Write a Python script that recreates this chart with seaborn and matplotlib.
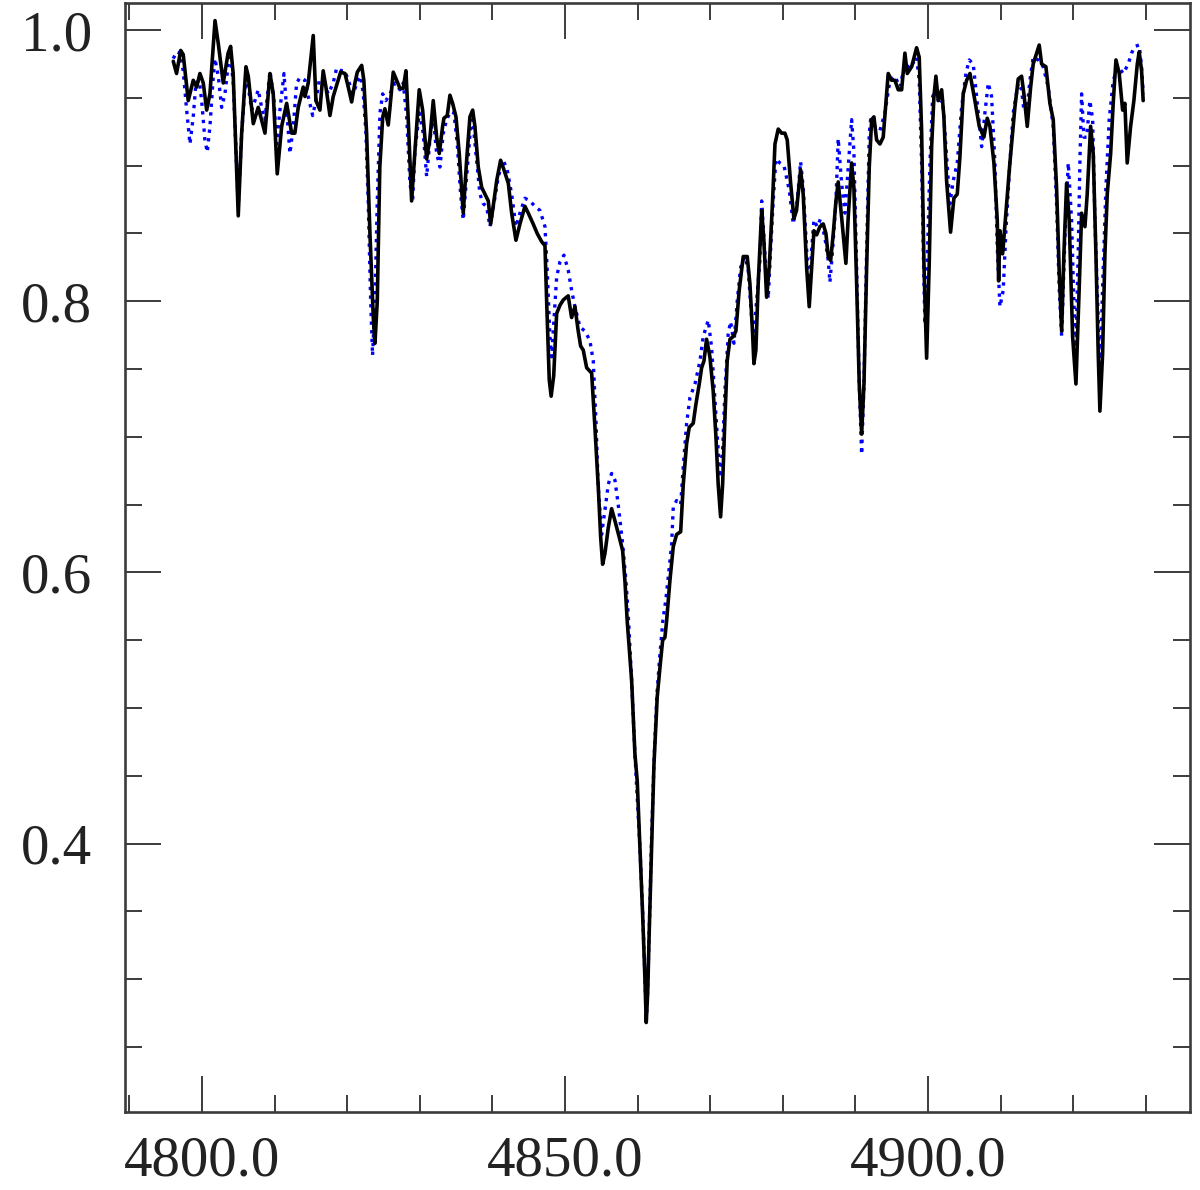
import numpy as np
import pandas as pd
import matplotlib
matplotlib.use("Agg")
import matplotlib.pyplot as plt
from matplotlib.ticker import MultipleLocator, FormatStrFormatter
import seaborn as sns

# ---- data: black solid spectrum ----
wl_black = [
 4796.05,4796.5,4797.07,4797.42,4798.11,4798.8,4799.27,4799.72,4800.18,4800.65,
 4801.1,4801.8,4802.25,4802.93,4803.6,4803.95,4804.3,4805.0,4805.47,4806.06,
 4806.38,4807.07,4807.75,4808.2,4808.68,4809.37,4809.82,4810.37,4810.98,4811.67,
 4812.35,4812.8,4813.26,4813.95,4814.19,4814.64,4815.33,4815.7,4816.25,4816.7,
 4817.08,4817.63,4818.08,4818.64,4819.1,4819.7,4820.15,4820.62,4821.07,4821.4,
 4822.0,4822.3,4822.68,4823.14,4823.6,4823.83,4824.15,4824.5,4824.9,4825.2,
 4825.66,4825.9,4826.35,4826.82,4827.27,4827.73,4828.1,4828.4,4828.88,4829.34,
 4829.93,4830.4,4830.95,4831.4,4831.86,4832.33,4832.69,4833.15,4833.33,4833.79,
 4834.16,4834.53,4834.99,4835.44,4835.99,4836.46,4836.91,4837.29,4837.6,4838.06,
 4838.53,4838.98,4839.44,4839.77,4840.22,4840.6,4841.14,4841.6,4842.2,4842.66,
 4843.25,4843.8,4844.49,4844.95,4845.63,4846.18,4846.79,4847.25,4847.48,4847.84,
 4848.1,4848.45,4848.86,4849.31,4849.77,4850.45,4850.92,4851.38,4851.83,4852.16,
 4852.52,4852.99,4853.68,4854.13,4854.59,4854.92,4855.19,4855.51,4855.97,4856.43,
 4856.89,4857.48,4857.95,4858.26,4858.58,4859.19,4859.64,4859.96,4860.33,4860.7,
 4861.02,4861.2,4861.4,4861.61,4861.94,4862.26,4862.71,4863.09,4863.46,4863.77,
 4864.0,4864.46,4864.92,4865.38,4865.94,4866.3,4866.76,4867.12,4867.67,4868.04,
 4868.5,4868.83,4869.15,4869.51,4869.97,4870.42,4870.8,4871.11,4871.44,4871.72,
 4872.04,4872.35,4872.73,4873.18,4873.55,4874.0,4874.56,4875.11,4875.48,4875.85,
 4876.03,4876.3,4876.62,4877.1,4877.4,4877.78,4878.14,4878.6,4878.93,4879.38,
 4879.85,4880.3,4880.62,4881.09,4881.54,4881.9,4882.46,4882.82,4883.29,4883.65,
 4883.98,4884.3,4884.67,4885.12,4885.58,4885.95,4886.27,4886.6,4886.96,4887.33,
 4887.64,4888.11,4888.7,4889.02,4889.49,4889.8,4890.18,4890.54,4890.87,4891.19,
 4891.56,4891.92,4892.25,4892.56,4892.93,4893.39,4893.84,4894.53,4895.0,4895.45,
 4895.91,4896.38,4896.83,4897.15,4897.76,4898.44,4898.8,4899.13,4899.45,4899.82,
 4900.18,4900.51,4900.83,4901.1,4901.42,4901.89,4902.2,4902.57,4903.12,4903.58,
 4904.04,4904.4,4904.86,4905.33,4905.79,4906.47,4907.07,4907.71,4908.17,4908.54,
 4909.09,4909.55,4909.74,4909.92,4910.29,4910.74,4911.29,4911.98,4912.44,4912.9,
 4913.22,4913.68,4914.15,4914.5,4914.97,4915.33,4915.66,4916.25,4916.8,4917.26,
 4917.72,4918.08,4918.42,4918.73,4919.1,4919.46,4919.93,4920.39,4920.84,4921.17,
 4921.63,4921.94,4922.41,4922.77,4923.14,4923.46,4923.69,4924.06,4924.38,4924.7,
 4925.17,4925.52,4925.9,4926.35,4926.82,4927.13,4927.45,4927.92,4928.37,4928.84,
 4929.1,4929.43,4929.65]
flux_black = [
 0.977,0.968,0.985,0.982,0.948,0.963,0.958,0.968,0.961,0.941,
 0.953,1.007,0.990,0.961,0.983,0.988,0.968,0.863,0.924,0.973,
 0.966,0.931,0.943,0.934,0.924,0.968,0.953,0.894,0.929,0.946,
 0.924,0.924,0.943,0.958,0.951,0.961,0.996,0.948,0.941,0.970,
 0.958,0.937,0.951,0.961,0.969,0.968,0.958,0.947,0.961,0.969,
 0.974,0.963,0.924,0.850,0.788,0.769,0.800,0.899,0.936,0.942,
 0.930,0.943,0.969,0.963,0.957,0.957,0.970,0.936,0.874,0.911,
 0.956,0.941,0.905,0.920,0.948,0.921,0.909,0.929,0.935,0.937,
 0.952,0.946,0.936,0.909,0.865,0.904,0.936,0.941,0.929,0.899,
 0.884,0.879,0.874,0.857,0.874,0.889,0.904,0.897,0.887,0.865,
 0.845,0.857,0.870,0.865,0.857,0.850,0.844,0.841,0.800,0.742,
 0.730,0.745,0.791,0.797,0.801,0.804,0.788,0.796,0.778,0.767,
 0.764,0.751,0.747,0.707,0.663,0.626,0.606,0.614,0.633,0.647,
 0.638,0.626,0.616,0.594,0.564,0.520,0.466,0.446,0.397,0.348,
 0.300,0.268,0.290,0.335,0.397,0.458,0.508,0.530,0.550,0.552,
 0.564,0.594,0.619,0.628,0.630,0.665,0.695,0.707,0.710,0.724,
 0.739,0.751,0.756,0.772,0.759,0.734,0.700,0.665,0.641,0.665,
 0.714,0.756,0.772,0.774,0.778,0.808,0.833,0.833,0.813,0.776,
 0.754,0.764,0.813,0.867,0.845,0.803,0.825,0.874,0.916,0.927,
 0.924,0.924,0.919,0.887,0.861,0.867,0.897,0.879,0.825,0.796,
 0.825,0.852,0.849,0.855,0.857,0.850,0.833,0.830,0.850,0.874,
 0.888,0.862,0.828,0.862,0.902,0.884,0.813,0.739,0.702,0.739,
 0.825,0.899,0.934,0.936,0.919,0.916,0.921,0.968,0.963,0.963,
 0.956,0.956,0.983,0.968,0.973,0.987,0.980,0.926,0.828,0.758,
 0.828,0.914,0.951,0.966,0.948,0.956,0.936,0.889,0.851,0.876,
 0.879,0.906,0.953,0.963,0.968,0.948,0.929,0.921,0.935,0.929,
 0.902,0.860,0.815,0.852,0.835,0.865,0.902,0.943,0.964,0.966,
 0.953,0.929,0.958,0.975,0.983,0.989,0.975,0.973,0.946,0.934,
 0.884,0.823,0.778,0.835,0.887,0.860,0.774,0.739,0.810,0.865,
 0.855,0.879,0.929,0.909,0.835,0.761,0.719,0.761,0.835,0.879,
 0.909,0.946,0.978,0.968,0.941,0.946,0.902,0.929,0.948,0.975,
 0.984,0.970,0.948]

# ---- data: blue dotted spectrum ----
wl_blue = [
 4796.05,4796.5,4796.97,4797.42,4797.89,4798.35,4798.8,4799.17,4799.63,4799.96,
 4800.41,4800.73,4801.1,4801.56,4801.79,4802.25,4802.71,4803.17,4803.62,4803.95,
 4804.31,4805.0,4805.47,4806.06,4806.38,4806.85,4807.3,4807.75,4808.22,4808.68,
 4809.37,4809.92,4810.29,4810.74,4811.3,4811.67,4812.12,4812.58,4813.04,4813.5,
 4814.19,4814.64,4815.25,4815.7,4816.16,4816.71,4817.4,4818.08,4818.55,4819.24,
 4819.7,4820.15,4820.84,4821.4,4821.86,4822.22,4822.59,4822.9,4823.24,4823.5,
 4823.83,4824.15,4824.52,4824.89,4825.34,4825.9,4826.58,4827.27,4827.73,4828.2,
 4828.65,4829.02,4829.34,4829.93,4830.48,4830.95,4831.4,4831.86,4832.33,4832.78,
 4833.24,4833.7,4834.26,4834.71,4835.17,4835.63,4835.99,4836.46,4837.01,4837.29,
 4837.84,4838.29,4838.75,4839.21,4839.67,4840.22,4840.82,4841.5,4842.05,4842.66,
 4843.25,4843.8,4844.49,4845.18,4845.87,4846.56,4847.25,4847.56,4847.93,4848.17,
 4848.48,4848.86,4849.31,4849.86,4850.45,4850.92,4851.38,4852.07,4852.75,4853.44,
 4853.9,4854.27,4854.59,4855.05,4855.51,4855.97,4856.43,4856.89,4857.34,4857.95,
 4858.4,4858.72,4859.19,4859.64,4860.33,4860.74,4861.09,4861.2,4861.37,4861.61,
 4861.91,4862.26,4862.67,4863.09,4863.5,4863.9,4864.3,4864.7,4864.92,4865.38,
 4865.94,4866.3,4866.76,4867.22,4867.91,4868.6,4869.05,4869.74,4870.2,4870.66,
 4871.11,4871.35,4871.72,4872.04,4872.49,4872.82,4873.28,4873.73,4874.2,4874.79,
 4875.25,4875.71,4876.03,4876.4,4876.86,4877.1,4877.51,4878.0,4878.33,4878.69,
 4879.06,4879.61,4880.17,4880.9,4881.45,4882.0,4882.46,4882.82,4883.29,4883.65,
 4883.98,4884.3,4884.75,4885.22,4885.81,4886.27,4886.5,4886.87,4887.33,4887.64,
 4888.11,4888.57,4889.02,4889.49,4889.8,4890.18,4890.54,4890.87,4891.19,4891.56,
 4891.92,4892.11,4892.7,4893.39,4894.08,4894.77,4895.45,4896.14,4896.83,4897.52,
 4898.44,4898.8,4899.13,4899.45,4899.59,4899.9,4900.28,4900.65,4901.1,4901.56,
 4902.03,4902.48,4903.03,4903.49,4904.04,4904.64,4905.23,4905.69,4906.24,4906.71,
 4907.4,4907.85,4908.31,4908.77,4909.23,4909.55,4909.92,4910.37,4910.74,4911.29,
 4911.75,4912.44,4912.9,4913.22,4913.59,4914.05,4914.5,4915.19,4915.88,4916.57,
 4917.26,4917.72,4918.08,4918.42,4918.87,4919.33,4919.79,4920.11,4920.39,4920.7,
 4920.94,4921.17,4921.49,4921.87,4922.31,4922.69,4923.0,4923.46,4923.69,4924.06,
 4924.52,4924.97,4925.52,4926.21,4926.9,4927.59,4928.05,4928.51,4929.1,4929.43,
 4929.65]
flux_blue = [
 0.979,0.984,0.983,0.970,0.941,0.916,0.936,0.961,0.963,0.948,
 0.919,0.910,0.929,0.966,0.979,0.966,0.943,0.953,0.975,0.980,
 0.961,0.870,0.924,0.968,0.958,0.941,0.948,0.956,0.943,0.934,
 0.970,0.948,0.916,0.941,0.968,0.941,0.909,0.929,0.961,0.965,
 0.963,0.951,0.937,0.948,0.963,0.961,0.953,0.961,0.972,0.970,
 0.970,0.963,0.953,0.962,0.966,0.953,0.924,0.874,0.800,0.760,
 0.800,0.874,0.939,0.953,0.948,0.953,0.961,0.956,0.961,0.936,
 0.887,0.874,0.911,0.939,0.924,0.892,0.919,0.936,0.909,0.899,
 0.924,0.934,0.940,0.939,0.916,0.879,0.860,0.892,0.929,0.934,
 0.904,0.879,0.872,0.870,0.855,0.872,0.892,0.904,0.897,0.879,
 0.855,0.865,0.876,0.874,0.870,0.867,0.855,0.823,0.774,0.759,
 0.786,0.818,0.829,0.834,0.823,0.808,0.796,0.781,0.778,0.771,
 0.756,0.712,0.663,0.628,0.646,0.665,0.673,0.668,0.650,0.621,
 0.594,0.569,0.520,0.466,0.397,0.345,0.290,0.268,0.290,0.335,
 0.400,0.460,0.510,0.540,0.565,0.580,0.600,0.621,0.648,0.653,
 0.650,0.678,0.710,0.729,0.739,0.756,0.774,0.786,0.766,0.727,
 0.690,0.670,0.690,0.734,0.776,0.785,0.769,0.800,0.825,0.833,
 0.823,0.788,0.778,0.800,0.830,0.874,0.838,0.802,0.838,0.874,
 0.905,0.902,0.900,0.882,0.857,0.874,0.903,0.884,0.838,0.806,
 0.838,0.860,0.855,0.861,0.847,0.830,0.814,0.838,0.874,0.920,
 0.887,0.865,0.899,0.934,0.911,0.825,0.739,0.687,0.739,0.838,
 0.924,0.934,0.929,0.926,0.939,0.963,0.966,0.958,0.975,0.972,
 0.980,0.963,0.902,0.815,0.783,0.828,0.902,0.951,0.956,0.945,
 0.948,0.914,0.872,0.889,0.902,0.943,0.968,0.978,0.975,0.951,
 0.914,0.939,0.961,0.951,0.902,0.840,0.796,0.808,0.852,0.902,
 0.939,0.961,0.956,0.941,0.939,0.963,0.980,0.978,0.973,0.958,
 0.929,0.872,0.810,0.774,0.847,0.902,0.860,0.798,0.766,0.835,
 0.904,0.953,0.921,0.921,0.948,0.934,0.860,0.786,0.741,0.810,
 0.884,0.934,0.963,0.973,0.968,0.975,0.983,0.988,0.989,0.973,
 0.953]

x_major_ticks = [4800.0, 4850.0, 4900.0]
y_major_ticks = [0.4, 0.6, 0.8, 1.0]

df_black = pd.DataFrame({"wavelength": wl_black, "flux": flux_black})
df_blue = pd.DataFrame({"wavelength": wl_blue, "flux": flux_blue})

sns.set_style("white")
plt.rcParams["font.family"] = ["Liberation Serif", "DejaVu Serif"]

fig = plt.figure(figsize=(12, 11.9), dpi=100)
ax = fig.add_axes([125/1200, 1 - 1112/1190, 1065/1200, 1109/1190])

sns.lineplot(data=df_blue, x="wavelength", y="flux", ax=ax, color="#0000ff",
             linewidth=2.4, linestyle=(0, (1, 1.6)), estimator=None, sort=False)
sns.lineplot(data=df_black, x="wavelength", y="flux", ax=ax, color="black",
             linewidth=2.6, estimator=None, sort=False)
for ln in ax.get_lines():
    ln.set_solid_joinstyle("round")

ax.set_xlim(4789.4, 4936.1)
ax.set_ylim(0.202, 1.02)
ax.set_xlabel("")
ax.set_ylabel("")
ax.set_xticks(x_major_ticks)
ax.set_yticks(y_major_ticks)
ax.xaxis.set_minor_locator(MultipleLocator(10))
ax.yaxis.set_minor_locator(MultipleLocator(0.05))
ax.xaxis.set_major_formatter(FormatStrFormatter("%.1f"))
ax.yaxis.set_major_formatter(FormatStrFormatter("%.1f"))

edge = "#3c3c3c"
for s in ax.spines.values():
    s.set_visible(True)
    s.set_color(edge)
    s.set_linewidth(1.9)

ax.tick_params(which="both", direction="in", top=True, right=True,
               bottom=True, left=True, color=edge, width=1.4,
               labelsize=41, labelcolor="#222222")
ax.tick_params(which="major", length=26)
ax.tick_params(which="minor", length=12.5)
ax.tick_params(axis="x", which="major", pad=17)
ax.tick_params(axis="y", which="major", pad=24)

fig.savefig("out.png", dpi=100, facecolor="white")
